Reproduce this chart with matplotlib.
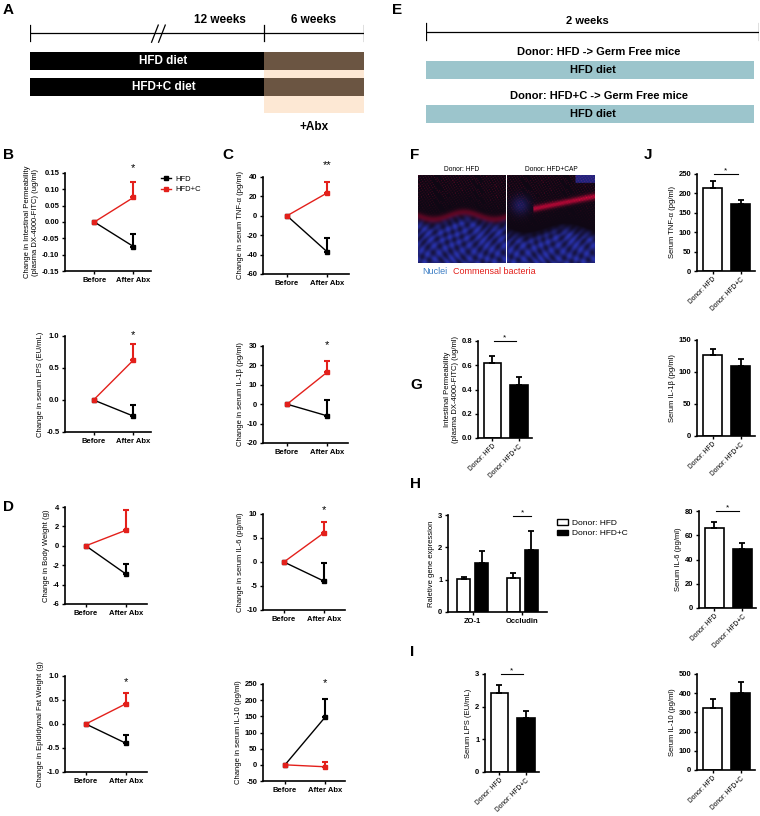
import matplotlib
matplotlib.use("Agg")
import matplotlib.pyplot as plt
import numpy as np
from matplotlib.lines import Line2D
from matplotlib.patches import Patch

plt.rcParams['font.family'] = ['Liberation Sans', 'DejaVu Sans']

# ---- data ----
time_points = ["Before", "After Abx"]
groups = ["HFD", "HFD+C"]

perm_hfd, perm_hfd_err = [0, -0.075], [0, 0.038]
perm_hfdc, perm_hfdc_err = [0, 0.075], [0, 0.047]
tnf_hfd, tnf_hfd_err = [0, -37], [0, 14]
tnf_hfdc, tnf_hfdc_err = [0, 23.5], [0, 11.5]
lps_hfd, lps_hfd_err = [0, -0.25], [0, 0.17]
lps_hfdc, lps_hfdc_err = [0, 0.62], [0, 0.25]
il1b_hfd, il1b_hfd_err = [0, -6], [0, 8]
il1b_hfdc, il1b_hfdc_err = [0, 16.5], [0, 5.8]
bw_hfd, bw_hfd_err = [0, -2.9], [0, 1.05]
bw_hfdc, bw_hfdc_err = [0, 1.6], [0, 2.1]
il6_hfd, il6_hfd_err = [0, -4.0], [0, 3.8]
il6_hfdc, il6_hfdc_err = [0, 6.1], [0, 2.3]
fat_hfd, fat_hfd_err = [0, -0.40], [0, 0.17]
fat_hfdc, fat_hfdc_err = [0, 0.42], [0, 0.22]
il10_hfd, il10_hfd_err = [0, 147], [0, 56]
il10_hfdc, il10_hfdc_err = [0, -6], [0, 16]

donors = ["Donor: HFD", "Donor: HFD+C"]
gf_perm, gf_perm_err = [0.62, 0.44], [0.06, 0.06]
genes = ["ZO-1", "Occludin"]
gene_hfd, gene_hfd_err = [1.02, 1.05], [0.07, 0.15]
gene_hfdc, gene_hfdc_err = [1.52, 1.93], [0.38, 0.58]
gf_lps, gf_lps_err = [2.43, 1.65], [0.24, 0.23]
gf_tnf, gf_tnf_err = [215, 172], [17, 12]
gf_il1b, gf_il1b_err = [127, 110], [9, 10]
gf_il6, gf_il6_err = [66, 49], [5, 5]
gf_il10, gf_il10_err = [323, 403], [47, 53]

a_rows = ["HFD diet", "HFD+C diet"]
a_phases = ["12 weeks", "6 weeks"]
e_rows = ["Donor: HFD -> Germ Free mice", "Donor: HFD+C -> Germ Free mice"]
e_bar_text = "HFD diet"

RED = '#e3201b'
W, H = 760, 816
fig = plt.figure(figsize=(W / 100, H / 100), dpi=100)


def px_axes(x0, y_top, x1, y_bottom):
    # Achsen in Pixelkoordinaten der Vorlage anlegen
    return fig.add_axes([x0 / W, 1 - y_bottom / H, (x1 - x0) / W, (y_bottom - y_top) / H])


def prism_style(ax, bold_x=True):
    for s in ['top', 'right']:
        ax.spines[s].set_visible(False)
    for s in ['left', 'bottom']:
        ax.spines[s].set_linewidth(1.2)
    ax.tick_params(direction='out', length=2.5, width=1.0, labelsize=5.5, pad=1.5)
    labels = ax.get_yticklabels() + (ax.get_xticklabels() if bold_x else [])
    for lab in labels:
        lab.set_fontweight('bold')


def change_plot(box, xlim, hfd, hfd_err, hfdc, hfdc_err, yticks, fmt, ylabel, star, star_y):
    ax = px_axes(*box)
    x = np.arange(len(time_points))
    ax.plot(x, hfd, color='black', marker='s', ms=3.5, lw=1)
    ax.errorbar(x[1:], hfd[1:], yerr=[[0], hfd_err[1:]], fmt='none', ecolor='black',
                elinewidth=1.5, capsize=2.5, capthick=1.5)
    ax.plot(x, hfdc, color=RED, marker='s', ms=3.5, lw=1)
    ax.errorbar(x[1:], hfdc[1:], yerr=[[0], hfdc_err[1:]], fmt='none', ecolor=RED,
                elinewidth=1.5, capsize=2.5, capthick=1.5)
    ax.set_xlim(*xlim)
    ax.set_ylim(yticks[0], yticks[-1])
    ax.set_yticks(yticks)
    ax.set_yticklabels([fmt.format(v) for v in yticks])
    ax.set_xticks(x)
    ax.set_xticklabels(time_points)
    ax.set_ylabel(ylabel, fontsize=5.5, labelpad=2)
    prism_style(ax)
    if star:
        ax.text(1, star_y, star, ha='center', va='center', fontsize=8, clip_on=False)
    return ax


def donor_bars(box, means, errs, yticks, fmt, ylabel, sig=False):
    ax = px_axes(*box)
    x = np.arange(len(donors))
    ax.bar(x, means, width=0.68, color=['white', 'black'], edgecolor='black', lw=1.2)
    ax.errorbar(x, means, yerr=[[0, 0], errs], fmt='none', ecolor='black',
                elinewidth=1.3, capsize=2.5, capthick=1.3)
    ax.set_xlim(-0.55, 1.5)
    ax.set_ylim(yticks[0], yticks[-1])
    ax.set_yticks(yticks)
    ax.set_yticklabels([fmt.format(v) for v in yticks])
    ax.set_xticks(x)
    ax.set_xticklabels(donors, rotation=45, ha='right', rotation_mode='anchor', fontsize=4.8)
    ax.set_ylabel(ylabel, fontsize=5.5, labelpad=2)
    prism_style(ax, bold_x=False)
    ax.tick_params(axis='x', labelsize=4.8, pad=1)
    if sig:
        ax.plot([0.05, 0.9], [yticks[-1]] * 2, color='black', lw=0.8, clip_on=False)
        ax.text(0.47, yticks[-1], '*', ha='center', va='bottom', fontsize=6, clip_on=False)
    return ax


# ---- Panel A: Zeitplan ----
axA = px_axes(30, 10, 364, 135)
phase_edges = [0, 7, 10]
axA.set_xlim(0, 10)
axA.set_ylim(2.85, -1.96)
axA.axis('off')
axA.barh([0.825], phase_edges[2] - phase_edges[1], left=phase_edges[1], height=2.35,
         color='#fde8d4')
for i, row in enumerate(a_rows):
    axA.barh(i, phase_edges[1], left=0, height=0.7, color='black')
    axA.barh(i, phase_edges[2] - phase_edges[1], left=phase_edges[1], height=0.7,
             color='#6b5542')
    axA.text(4.0, i, row, color='white', ha='center', va='center', fontsize=8.5,
             fontweight='bold')
axA.plot([0, 10], [-1.08, -1.08], color='black', lw=0.9)
for xe in phase_edges:
    axA.plot([xe, xe], [-1.4, -0.77], color='black', lw=0.9)
for dx in [3.72, 3.93]:
    axA.plot([dx - 0.08, dx + 0.12], [-0.72, -1.38], color='black', lw=0.9)
axA.text(5.7, -1.58, a_phases[0], ha='center', va='center', fontsize=8.5, fontweight='bold')
axA.text(8.5, -1.58, a_phases[1], ha='center', va='center', fontsize=8.5, fontweight='bold')
axA.text(8.5, 2.54, "+Abx", ha='center', va='center', fontsize=8.5, fontweight='bold')

# ---- Panel E: Zeitplan Transfer ----
axE = px_axes(426, 10, 759, 135)
axE.set_xlim(0, 1)
axE.set_ylim(1.48, -1.36)
axE.axis('off')
axE.plot([0, 1], [-0.86, -0.86], color='black', lw=0.9)
for xe in [0, 1]:
    axE.plot([xe, xe], [-1.07, -0.68], color='black', lw=0.9)
axE.text(0.485, -1.1, "2 weeks", ha='center', va='center', fontsize=8, fontweight='bold')
for i, row in enumerate(e_rows):
    axE.barh(i, 0.985, left=0, height=0.41, color='#9cc5cc')
    axE.text(0.5, i, e_bar_text, ha='center', va='center', fontsize=8, fontweight='bold')
    axE.text(0.52, i - 0.41, row, ha='center', va='center', fontsize=8, fontweight='bold')

# ---- Panels B, C, D ----
axB = change_plot((65, 173, 151, 271), (-0.75, 1.45), perm_hfd, perm_hfd_err, perm_hfdc,
                  perm_hfdc_err, [-0.15, -0.10, -0.05, 0.0, 0.05, 0.10, 0.15], "{:.2f}",
                  "Change in Intestinal Permeability\n(plasma DX-4000-FITC) (ug/ml)", "*", 0.165)
change_plot((263, 177, 349, 274), (-0.6, 1.55), tnf_hfd, tnf_hfd_err, tnf_hfdc, tnf_hfdc_err,
            [-60, -40, -20, 0, 20, 40], "{:d}", "Change in serum TNF-α (pg/ml)", "**", 52)
change_plot((65, 336, 151, 432), (-0.72, 1.45), lps_hfd, lps_hfd_err, lps_hfdc, lps_hfdc_err,
            [-0.5, 0.0, 0.5, 1.0], "{:.1f}", "Change in serum LPS (EU/mL)", "*", 1.02)
change_plot((263, 346, 348, 443), (-0.6, 1.52), il1b_hfd, il1b_hfd_err, il1b_hfdc,
            il1b_hfdc_err, [-20, -10, 0, 10, 20, 30], "{:d}", "Change in serum IL-1β (pg/ml)",
            "*", 30.5)
change_plot((65, 507, 147, 604), (-0.52, 1.53), bw_hfd, bw_hfd_err, bw_hfdc, bw_hfdc_err,
            [-6, -4, -2, 0, 2, 4], "{:d}", "Change in Body Weight (g)", "", 0)
change_plot((263, 514, 345, 610), (-0.52, 1.52), il6_hfd, il6_hfd_err, il6_hfdc, il6_hfdc_err,
            [-10, -5, 0, 5, 10], "{:d}", "Change in serum IL-6 (pg/ml)", "*", 10.8)
change_plot((65, 676, 147, 772), (-0.52, 1.53), fat_hfd, fat_hfd_err, fat_hfdc, fat_hfdc_err,
            [-1.0, -0.5, 0.0, 0.5, 1.0], "{:.1f}", "Change in Epididymal Fat Weight (g)", "*", 0.87)
change_plot((263, 684, 345, 781), (-0.55, 1.5), il10_hfd, il10_hfd_err, il10_hfdc,
            il10_hfdc_err, [-50, 0, 50, 100, 150, 200, 250], "{:d}",
            "Change in serum IL-10 (pg/ml)", "*", 252)

legend_handles = [Line2D([0], [0], color='black', marker='s', ms=3.5, lw=1),
                  Line2D([0], [0], color=RED, marker='s', ms=3.5, lw=1)]
axB.legend(legend_handles, groups, loc='upper left', bbox_to_anchor=(157 / W, 1 - 172 / H),
           bbox_transform=fig.transFigure, frameon=False, fontsize=5.5, handlelength=1.3,
           labelspacing=0.35, borderpad=0, handletextpad=0.6)


# ---- Panel F: Fluoreszenzbilder (schematisch) ----
def tissue_image(variant):
    yy, xx = np.mgrid[0:1:140j, 0:1:140j]
    cells = 0.5 + 0.5 * np.sin(xx * 47 + 3 * np.sin(yy * 9)) * np.sin(yy * 41 + 3 * np.sin(xx * 8))
    speck = (np.sin(xx * 173 + yy * 31) * np.sin(yy * 157 - xx * 23) > 0.8).astype(float)
    if variant == 0:
        edge = 0.47 + 0.04 * np.sin(xx * 9)
        blue = np.clip((yy - edge) * 8, 0, 1) * (0.2 + 0.45 * cells)
        red = np.clip((edge - yy) * 3, 0, 1) * 0.55 * speck + 0.3 * np.exp(-((yy - edge) / 0.04) ** 2)
    else:
        edge = 0.6 + 0.05 * np.sin(xx * 7)
        band = np.exp(-((yy - (0.45 - 0.2 * xx)) / 0.035) ** 2) * (xx > 0.3)
        blue = np.clip((yy - edge) * 8, 0, 1) * (0.2 + 0.45 * cells)
        blue += 0.45 * ((xx > 0.78) & (yy < 0.1)) + 0.3 * np.exp(-((xx - 0.15) ** 2 + (yy - 0.35) ** 2) / 0.01)
        red = 0.6 * band + 0.5 * speck * np.clip((edge - yy) * 2, 0, 1)
    rgb = np.dstack([np.clip(red + 0.06 + 0.15 * blue, 0, 1), np.clip(0.25 * blue + 0.03, 0, 1),
                     np.clip(blue * 0.9 + 0.2 * red + 0.08, 0, 1)])
    return rgb


for k, (x0, title) in enumerate([(418, "Donor: HFD"), (507, "Donor: HFD+CAP")]):
    axF = px_axes(x0, 175, x0 + 88, 263)
    axF.imshow(tissue_image(k), aspect='auto', interpolation='bilinear')
    axF.set_xticks([])
    axF.set_yticks([])
    for s in axF.spines.values():
        s.set_visible(False)
    axF.set_title(title, fontsize=4.8, pad=3)
fig.text(422 / W, 1 - 271 / H, "Nuclei", color='#3b7dc4', fontsize=6.5, va='center')
fig.text(453 / W, 1 - 271 / H, "Commensal bacteria", color=RED, fontsize=6.5, va='center')

# ---- Panels G, H, I ----
donor_bars((478, 341, 532, 438), gf_perm, gf_perm_err, [0.0, 0.2, 0.4, 0.6, 0.8], "{:.1f}",
           "Intestinal Permeability\n(plasma DX-4000-FITC) (ug/ml)", sig=True)

axH = px_axes(448, 515, 547, 612)
xg = np.arange(len(genes))
axH.bar(xg - 0.18, gene_hfd, width=0.26, color='white', edgecolor='black', lw=1.2)
axH.bar(xg + 0.18, gene_hfdc, width=0.26, color='black', edgecolor='black', lw=1.2)
axH.errorbar(xg - 0.18, gene_hfd, yerr=[[0, 0], gene_hfd_err], fmt='none', ecolor='black',
             elinewidth=1.3, capsize=2.5, capthick=1.3)
axH.errorbar(xg + 0.18, gene_hfdc, yerr=[[0, 0], gene_hfdc_err], fmt='none', ecolor='black',
             elinewidth=1.3, capsize=2.5, capthick=1.3)
axH.set_xlim(-0.5, 1.5)
axH.set_ylim(0, 3)
axH.set_yticks([0, 1, 2, 3])
axH.set_xticks(xg)
axH.set_xticklabels(genes)
axH.set_ylabel("Raletive gene expression", fontsize=5.5, labelpad=2)
prism_style(axH)
axH.plot([1 - 0.18, 1 + 0.18], [2.97, 2.97], color='black', lw=0.8, clip_on=False)
axH.text(1, 2.97, '*', ha='center', va='bottom', fontsize=6, clip_on=False)
axH.legend([Patch(facecolor='white', edgecolor='black', lw=1),
            Patch(facecolor='black', edgecolor='black', lw=1)], donors,
           loc='upper left', bbox_to_anchor=(553 / W, 1 - 515 / H),
           bbox_transform=fig.transFigure, frameon=False, fontsize=6, handlelength=1.3,
           handleheight=0.7, labelspacing=0.3, borderpad=0, handletextpad=0.5)

donor_bars((485, 674, 539, 772), gf_lps, gf_lps_err, [0, 1, 2, 3], "{:d}",
           "Serum LPS (EU/mL)", sig=True)

# ---- Panel J ----
donor_bars((697, 174, 755, 271), gf_tnf, gf_tnf_err, [0, 50, 100, 150, 200, 250], "{:d}",
           "Serum TNF-α (pg/ml)", sig=True)
donor_bars((697, 340, 755, 436), gf_il1b, gf_il1b_err, [0, 50, 100, 150], "{:d}",
           "Serum IL-1β (pg/ml)")
donor_bars((699, 511, 756, 608), gf_il6, gf_il6_err, [0, 20, 40, 60, 80], "{:d}",
           "Serum IL-6 (pg/ml)", sig=True)
donor_bars((697, 674, 755, 770), gf_il10, gf_il10_err, [0, 100, 200, 300, 400, 500], "{:d}",
           "Serum IL-10 (pg/ml)")

# ---- Panel-Buchstaben ----
for letter, x, y in [("A", 3, 10), ("E", 392, 10), ("B", 3, 155), ("C", 222, 155),
                     ("D", 3, 507), ("F", 410, 155), ("G", 410, 385), ("H", 410, 484),
                     ("I", 410, 652), ("J", 644, 155)]:
    fig.text(x / W, 1 - y / H, letter, fontsize=11, fontweight='bold', va='center', ha='left')

fig.savefig("out.png", dpi=100)
